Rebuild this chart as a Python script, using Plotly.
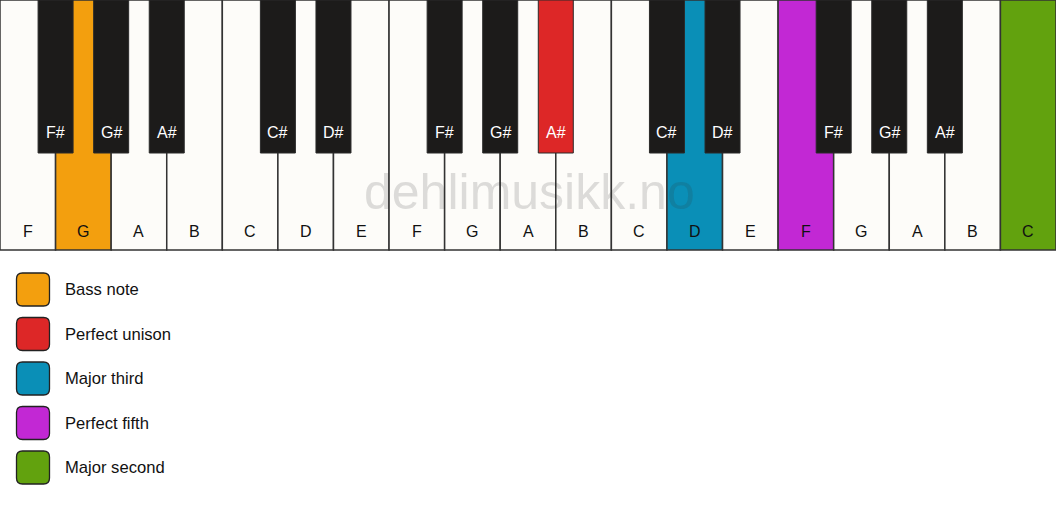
import plotly.graph_objects as go

# keyboard data
white_notes = ["F", "G", "A", "B", "C", "D", "E", "F", "G", "A", "B", "C", "D", "E", "F", "G", "A", "B", "C"]
black_notes = ["F#", "G#", "A#", "C#", "D#", "F#", "G#", "A#", "C#", "D#", "F#", "G#", "A#"]
# black key sits on the boundary after this white key index
black_after = [0, 1, 2, 4, 5, 7, 8, 9, 11, 12, 14, 15, 16]

# highlighted keys: (kind, index, colour)
highlights = {
    ("white", 1): "#F39F0E",
    ("black", 7): "#DD2727",
    ("white", 12): "#0A8FB7",
    ("white", 14): "#C228D4",
    ("white", 18): "#62A20E",
}

legend_labels = ["Bass note", "Perfect unison", "Major third", "Perfect fifth", "Major second"]
legend_colors = ["#F39F0E", "#DD2727", "#0A8FB7", "#C228D4", "#62A20E"]

W, H = 1056, 506
KEY_W = W / len(white_notes)
WHITE_H = 250
BLACK_W = 35
BLACK_H = 153
WHITE_FILL = "#FDFCF9"
BLACK_FILL = "#1C1B1A"
EDGE = "#333333"
FONT = "Liberation Sans, Arial, sans-serif"

fig = go.Figure()
shapes = []
annotations = []

# white keys
for i, note in enumerate(white_notes):
    x0 = i * KEY_W
    fill = highlights.get(("white", i), WHITE_FILL)
    shapes.append(dict(type="rect", xref="x", yref="y", x0=x0, x1=x0 + KEY_W, y0=0, y1=WHITE_H,
                       fillcolor=fill, line=dict(color=EDGE, width=1.5), layer="above"))
    annotations.append(dict(x=x0 + KEY_W / 2, y=231, text=note, showarrow=False,
                            font=dict(family=FONT, size=16, color="#111111")))

# watermark
annotations.append(dict(x=529, y=192, text="dehlimusikk.no", showarrow=False,
                        font=dict(family=FONT, size=50, color="rgba(50,50,50,0.16)")))

# black keys
for j, note in enumerate(black_notes):
    cx = (black_after[j] + 1) * KEY_W
    fill = highlights.get(("black", j), BLACK_FILL)
    shapes.append(dict(type="rect", xref="x", yref="y", x0=cx - BLACK_W / 2, x1=cx + BLACK_W / 2,
                       y0=0, y1=BLACK_H, fillcolor=fill, line=dict(color="#2a2a2a", width=1), layer="above"))
    annotations.append(dict(x=cx, y=132, text=note, showarrow=False,
                            font=dict(family=FONT, size=16, color="#ffffff")))


def rounded_rect(x0, y0, x1, y1, r):
    return (f"M {x0 + r},{y0} L {x1 - r},{y0} Q {x1},{y0} {x1},{y0 + r} "
            f"L {x1},{y1 - r} Q {x1},{y1} {x1 - r},{y1} L {x0 + r},{y1} "
            f"Q {x0},{y1} {x0},{y1 - r} L {x0},{y0 + r} Q {x0},{y0} {x0 + r},{y0} Z")


# legend
for k, (label, color) in enumerate(zip(legend_labels, legend_colors)):
    cy = 289.5 + k * 44.5
    shapes.append(dict(type="path", xref="x", yref="y",
                       path=rounded_rect(16.5, cy - 16.5, 49.5, cy + 16.5, 6),
                       fillcolor=color, line=dict(color="#222222", width=1.3), layer="above"))
    annotations.append(dict(x=62.5, y=cy, text=label, showarrow=False, xanchor="left",
                            font=dict(family=FONT, size=16.6, color="#111111")))

fig.update_layout(
    width=W, height=H,
    margin=dict(l=0, r=0, t=0, b=0),
    paper_bgcolor="white", plot_bgcolor="white",
    shapes=shapes, annotations=annotations,
    showlegend=False,
    xaxis=dict(range=[0, W], visible=False, fixedrange=True),
    yaxis=dict(range=[H, 0], visible=False, fixedrange=True),
)

# drop the page margin so the figure sits at the window's corner
fig.write_html("out.html", config={"displayModeBar": False},
               post_script="document.body.style.margin='0';document.body.style.overflow='hidden';")
